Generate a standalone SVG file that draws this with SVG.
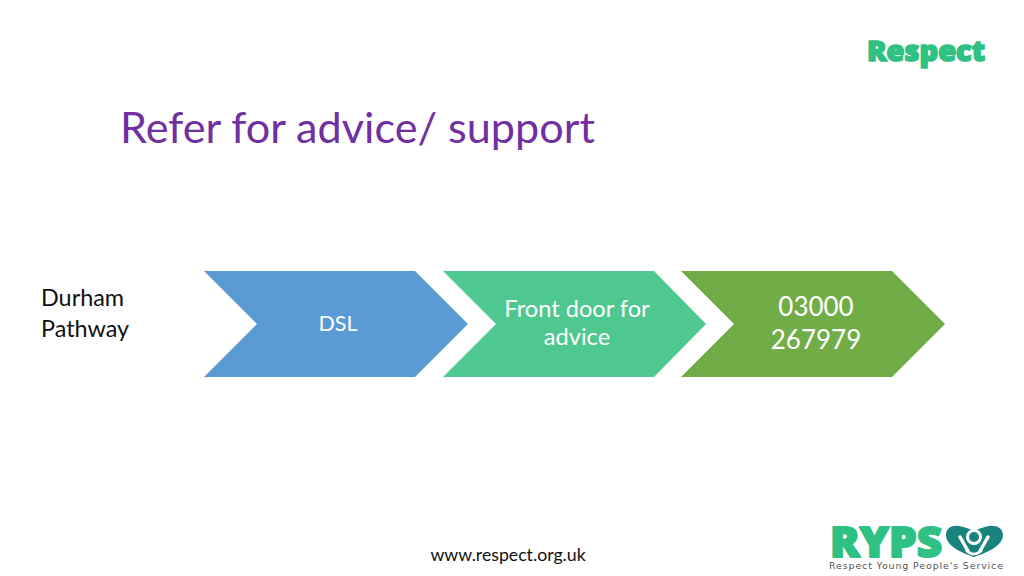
<svg xmlns="http://www.w3.org/2000/svg" width="1024" height="576" viewBox="0 0 1024 576">
<style>
text{font-family:Lato,"Open Sans","Liberation Sans",sans-serif}
.w{fill:#fff;text-anchor:middle}
.k{fill:#111}
.logo{font-family:"Open Sans","Liberation Sans",sans-serif;font-weight:800;fill:#2fc083;stroke:#2fc083;stroke-linejoin:round}
</style>
<rect width="1024" height="576" fill="#fff"/>
<text id="title" x="120" y="143" font-size="43.2" fill="#7030a0">Refer for advice/ support</text>
<g id="label"><text class="k" x="41" y="306" font-size="23.4">Durham</text><text class="k" x="41" y="337" font-size="23.4">Pathway</text></g>
<g id="connectors"/>
<g id="node-dsl"><polygon points="204,271 415,271 468,324 415,377 204,377 257,324" fill="#5b9bd5"/><text class="w" x="338" y="331" font-size="21.5">DSL</text></g>
<g id="node-front"><polygon points="443,271 654,271 706,324 654,377 443,377 496,324" fill="#4fc88f"/><text class="w" x="577" y="317" font-size="23.6">Front door for</text><text class="w" x="577" y="345" font-size="23.6">advice</text></g>
<g id="node-phone"><polygon points="681,271 892,271 945,324 892,377 681,377 734,324" fill="#70ad47"/><text class="w" x="816" y="316" font-size="26">03000</text><text class="w" x="816" y="349" font-size="26">267979</text></g>
<g id="logo-respect"><text class="logo" x="867" y="61" font-size="28" stroke-width="1.6" textLength="118" lengthAdjust="spacingAndGlyphs">Respect</text></g>
<text id="footer" class="k" x="508" y="561" font-size="17.7" text-anchor="middle">www.respect.org.uk</text>
<g id="logo-ryps">
<text class="logo" x="830" y="557" font-size="42" stroke-width="2" textLength="112" lengthAdjust="spacingAndGlyphs">RYPS</text>
<path d="M974 557C962 553 946 546 946 535C946 528 952 525 959 526C965 527 970 529 974 531C978 529 983 527 989 526C996 525 1003 528 1003 535C1003 546 986 553 974 557Z" fill="#17837c"/>
<path d="M960 537L968 551M988 537L980 551" stroke="#fff" stroke-width="3.5" fill="none" stroke-linecap="round"/>
<circle cx="974" cy="537" r="6.5" fill="#17837c" stroke="#fff" stroke-width="3"/>
<path d="M966 550Q974 558 982 550" stroke="#fff" stroke-width="2.5" fill="none"/>
<text x="829" y="569" font-size="9.5" style="font-family:'DejaVu Sans',sans-serif" fill="#555" textLength="174" lengthAdjust="spacing">Respect Young People's Service</text>
</g>
</svg>
